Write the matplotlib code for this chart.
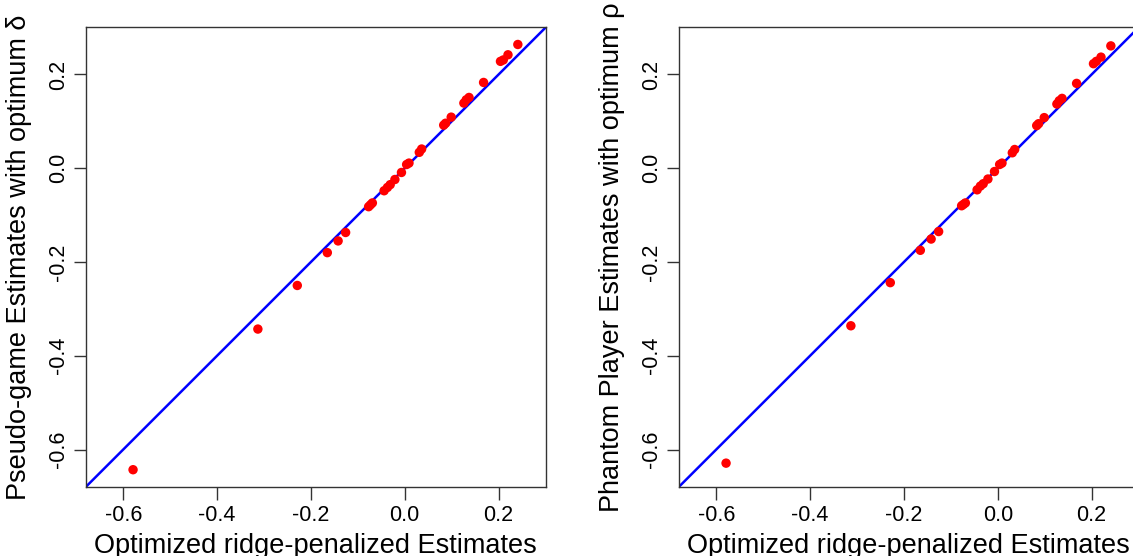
import numpy as np
import matplotlib
matplotlib.use("Agg")
import matplotlib.pyplot as plt

plt.rcParams['font.family'] = ['Liberation Sans', 'DejaVu Sans']
plt.rcParams['axes.unicode_minus'] = False

# ridge estimates (shared x for both panels)
ridge = [-0.579, -0.313, -0.229, -0.165, -0.142, -0.126, -0.077, -0.073, -0.069,
         -0.044, -0.037, -0.031, -0.021, -0.007, 0.004, 0.009, 0.031, 0.036,
         0.083, 0.087, 0.099, 0.126, 0.131, 0.137, 0.168, 0.204, 0.210, 0.220, 0.241]

pseudo = [-0.643, -0.343, -0.250, -0.180, -0.155, -0.137, -0.082, -0.078, -0.074,
          -0.048, -0.041, -0.035, -0.024, -0.009, 0.008, 0.011, 0.034, 0.041,
          0.092, 0.096, 0.109, 0.139, 0.146, 0.151, 0.183, 0.228, 0.231, 0.242, 0.264]

phantom = [-0.629, -0.336, -0.244, -0.175, -0.151, -0.135, -0.080, -0.077, -0.074,
           -0.046, -0.038, -0.033, -0.023, -0.007, 0.008, 0.011, 0.033, 0.040,
           0.091, 0.095, 0.108, 0.137, 0.144, 0.149, 0.181, 0.223, 0.228, 0.237, 0.261]

ticks = [-0.6, -0.4, -0.2, 0.0, 0.2]
tick_labels = ["-0.6", "-0.4", "-0.2", "0.0", "0.2"]

xlab = "Optimized ridge-penalized Estimates"
ylab_left = "Pseudo-game Estimates with optimum δ"
ylab_right = "Phantom Player Estimates with optimum ρ"

# R-style range with 4% padding
lo = min(min(ridge), min(pseudo))
hi = max(max(ridge), max(pseudo))
pad = 0.04 * (hi - lo)
lims = (lo - pad, hi + pad)

fig = plt.figure(figsize=(11.33, 5.56), dpi=100)
ax1 = fig.add_axes([0.0759, 0.1246, 0.4057, 0.826])
ax2 = fig.add_axes([0.5993, 0.1246, 0.4057, 0.826])


def panel(ax, y, ylab):
    ax.axline((0, 0), slope=1, color='#0000ff', lw=1.8, zorder=2)
    ax.scatter(ridge, y, s=46, color='#ff0000', edgecolors='none', zorder=3)
    ax.set_xlim(lims)
    ax.set_ylim(lims)
    ax.set_xticks(ticks)
    ax.set_xticklabels(tick_labels)
    ax.set_yticks(ticks)
    ax.set_yticklabels(tick_labels, rotation=90, va='center')
    ax.tick_params(direction='out', length=9, width=1, colors='#333333',
                   labelcolor='black', labelsize=15.5)
    ax.tick_params(axis='x', pad=4)
    ax.tick_params(axis='y', pad=3)
    for s in ax.spines.values():
        s.set_color('#333333')
        s.set_linewidth(1)
    ax.set_xlabel(xlab, fontsize=19.5, labelpad=5)
    ax.set_ylabel(ylab, fontsize=19.5, labelpad=12)


panel(ax1, pseudo, ylab_left)
panel(ax2, phantom, ylab_right)

fig.savefig("out.png", dpi=100)
